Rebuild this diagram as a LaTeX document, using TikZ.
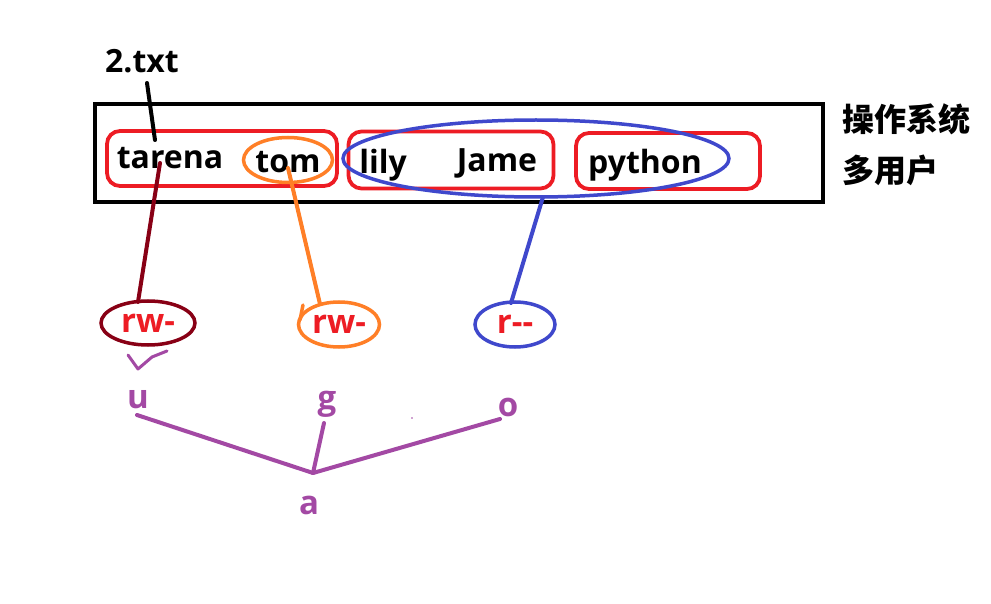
\documentclass[tikz,border=0pt]{standalone}
\usepackage{fontspec}
\setmainfont{Open Sans}
\newfontfamily\cjk{Noto Sans CJK SC}
\usetikzlibrary{shapes.geometric}
\definecolor{dred}{HTML}{880015}
\definecolor{pred}{HTML}{ED1C24}
\definecolor{porange}{HTML}{FF7F27}
\definecolor{pblue}{HTML}{3F48CC}
\definecolor{ppurple}{HTML}{A349A4}
\tikzset{
  lbl/.style={font=\fontsize{32}{32}\selectfont\bfseries, inner sep=0pt},
  grp/.style={draw=pred, line width=3.8pt, rounded corners=13pt, inner sep=0pt},
  perm/.style={ellipse, line width=3.5pt, inner sep=0pt, text=pred,
     font=\fontsize{33}{33}\selectfont\bfseries},
  ugo/.style={text=ppurple, inner sep=0pt, font=\fontsize{33}{33}\selectfont\bfseries},
  ln/.style={line width=4pt, line cap=round}
}
\begin{document}
\begin{tikzpicture}[x=1pt,y=-1pt]
\useasboundingbox[fill=white] (0,0) rectangle (991,604);
% outer box
\node[draw=black, line width=4.5pt, minimum width=728pt, minimum height=98pt, inner sep=0pt] (box) at (459,153) {};
% group boxes
\node[grp, minimum width=230pt, minimum height=55pt] (r1) at (222,158.5) {};
\node[grp, minimum width=205pt, minimum height=57pt] (r2) at (451,160) {};
\node[grp, minimum width=184pt, minimum height=56pt] (r3) at (668,161) {};
% names
\node[lbl] (t2) at (142,61) {2.txt};
\node[lbl] (tarena) at (170,158) {tarena};
\node[lbl] (tom) at (288,162) {tom};
\node[lbl] (lily) at (383,165) {lily};
\node[lbl] (jame) at (497,163) {Jame};
\node[lbl] (python) at (645,165) {python};
\node[draw=porange, ellipse, line width=3.5pt, minimum width=89pt, minimum height=45pt, inner sep=0pt] (eTom) at (288,160) {};
\node[draw=pblue, ellipse, line width=3.5pt, minimum width=386pt, minimum height=77pt, inner sep=0pt] (eBlue) at (536,158.5) {};
% chinese
\node[lbl, anchor=west] (os1) at (842,119) {\cjk\bfseries 操作系统};
\node[lbl, anchor=west] (os2) at (842,170) {\cjk\bfseries 多用户};
% permission ellipses
\node[perm, draw=dred, minimum width=94pt, minimum height=44pt] (p1) at (148,323) {rw-};
\node[perm, draw=porange, minimum width=81pt, minimum height=45pt] (p2) at (339,324.5) {rw-};
\node[perm, draw=pblue, minimum width=80pt, minimum height=45pt] (p3) at (515,324.5) {r-{}-};
% connector endpoints
\coordinate (c1a) at (147,83);
\coordinate (c1b) at (155,140);
\coordinate (c2a) at (160,163);
\coordinate (c2b) at (138,302);
\coordinate (c3a) at (288,168);
\coordinate (c3b) at (320,304);
\coordinate (c4a) at (543,197);
\coordinate (c4b) at (511,303);
\draw[ln, black] (c1a) -- (c1b);
\draw[ln, dred] (c2a) -- (c2b);
\draw[ln, porange] (c3a) -- (c3b);
\draw[ln, porange, line width=3.5pt] (303,305) -- (300,320);
\draw[ln, pblue] (c4a) -- (c4b);
% check mark
\draw[ppurple, line width=3pt, line cap=round, line join=round] (128,355) -- (138,369) -- (152,357) -- (167,351);
% u g o a
\node[ugo] (u) at (138,400) {u};
\node[ugo] (g) at (327,404) {g};
\node[ugo] (o) at (508,407) {o};
\node[ugo] (a) at (309,505) {a};
\coordinate (v) at (313,473);
\coordinate (ue) at (137,415);
\coordinate (ge) at (324,423);
\coordinate (oe) at (500,419);
\draw[ln, ppurple] (ue) -- (v);
\draw[ln, ppurple] (ge) -- (v);
\draw[ln, ppurple] (oe) -- (v);
\fill[ppurple] (412,418) circle (0.8pt);
\end{tikzpicture}
\end{document}
